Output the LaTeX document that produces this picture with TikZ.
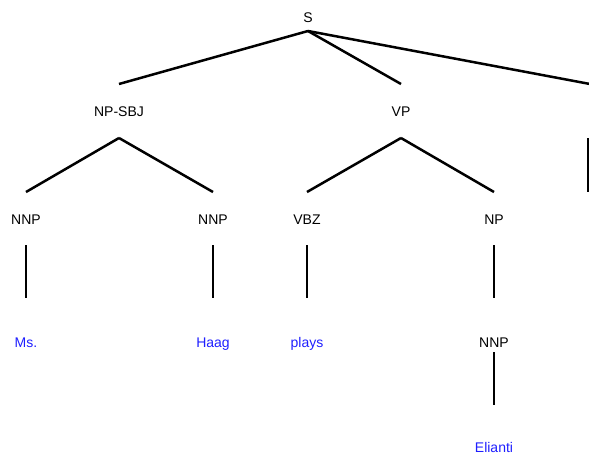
\documentclass[tikz,border=0pt]{standalone}
\usepackage{fontspec}
\setmainfont{Liberation Sans}
\usetikzlibrary{calc}
\definecolor{leafblue}{rgb}{0.12,0.12,1}
\tikzset{
  cat/.style={font=\fontsize{14}{16}\selectfont, anchor=base, inner sep=0pt},
  word/.style={cat, text=leafblue},
  branch/.style={line width=2.5pt, line cap=butt}
}

\begin{document}
\begin{tikzpicture}[x=1pt,y=-1pt]
\useasboundingbox (0,0) rectangle (589,455);
% labels
\node[cat] (s) at (308,23) {S};
\node[cat] (npsbj) at (119,116) {NP-SBJ};
\node[cat] (vp) at (401,116) {VP};
\node[cat] (punct) at (590,116) {.};
\node[cat] (nnpa) at (26,224) {NNP};
\node[cat] (nnpb) at (213,224) {NNP};
\node[cat] (vbz) at (307,224) {VBZ};
\node[cat] (np) at (494,224) {NP};
\node[word] (dot) at (590,224) {.};
\node[word] (ms) at (26,347) {Ms.};
\node[word] (haag) at (213,347) {Haag};
\node[word] (plays) at (307,347) {plays};
\node[cat] (nnpc) at (494,347) {NNP};
\node[word] (elianti) at (494,452) {Elianti};
% branches
\draw[branch] ($(s.base)+(0,8)$) -- ($(npsbj.base)+(0,-32)$);
\draw[branch] ($(s.base)+(0,8)$) -- ($(vp.base)+(0,-32)$);
\draw[branch] ($(s.base)+(0,8)$) -- ($(punct.base)+(0,-32)$);
\draw[branch] ($(npsbj.base)+(0,22)$) -- ($(nnpa.base)+(0,-32)$);
\draw[branch] ($(npsbj.base)+(0,22)$) -- ($(nnpb.base)+(0,-32)$);
\draw[branch] ($(vp.base)+(0,22)$) -- ($(vbz.base)+(0,-32)$);
\draw[branch] ($(vp.base)+(0,22)$) -- ($(np.base)+(0,-32)$);
\draw[branch] ($(punct.base)+(-2,22)$) -- ($(dot.base)+(-2,-32)$);
\draw[branch] ($(nnpa.base)+(0,21)$) -- ($(ms.base)+(0,-49)$);
\draw[branch] ($(nnpb.base)+(0,21)$) -- ($(haag.base)+(0,-49)$);
\draw[branch] ($(vbz.base)+(0,21)$) -- ($(plays.base)+(0,-49)$);
\draw[branch] ($(np.base)+(0,21)$) -- ($(nnpc.base)+(0,-49)$);
\draw[branch] ($(nnpc.base)+(0,5)$) -- ($(elianti.base)+(0,-47)$);
\end{tikzpicture}
\end{document}
